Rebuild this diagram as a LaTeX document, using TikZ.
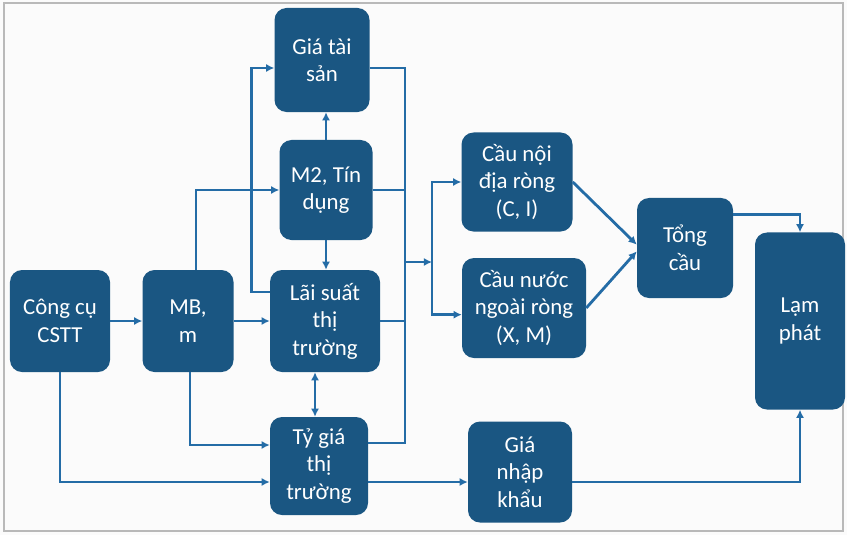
\documentclass[tikz,border=0pt]{standalone}
\usepackage{fontspec}
\setmainfont{Carlito}
\usetikzlibrary{arrows.meta}
\definecolor{boxblue}{RGB}{26,86,130}
\definecolor{lineblue}{RGB}{36,108,166}
\begin{document}
\begin{tikzpicture}[x=0.03cm,y=-0.03cm]
        \tikzstyle{every node}=[fill=boxblue,rounded corners=0.36cm,text=white,align=center,font=\fontsize{19.5}{23.5}\selectfont,inner sep=2pt]
        \tikzstyle{line}=[draw=lineblue,line width=2.4pt]
        \tikzstyle{arr}=[line,-{Latex[length=7pt,width=7pt]}]
        \fill[white!97!gray] (0,0) rectangle (847,535);
        \useasboundingbox (0,0) rectangle (847,535);
        \draw[gray!55,line width=1pt] (4,3) rectangle (843,531);
        \node[minimum width=3cm,minimum height=3.06cm] (cstt) at (60,321) {Công cụ\\CSTT};
        \node[minimum width=2.73cm,minimum height=3.06cm] (mb) at (188,321) {MB,\\m};
        \node[minimum width=2.85cm,minimum height=3.12cm] (gts) at (322,60) {Giá tài\\sản};
        \node[minimum width=2.79cm,minimum height=3cm] (m2) at (326,190) {M2, Tín\\dụng};
        \node[minimum width=3.3cm,minimum height=3.06cm] (ls) at (325,321) {Lãi suất\\thị\\trường};
        \node[minimum width=2.94cm,minimum height=2.94cm] (tg) at (319,466) {Tỷ giá\\thị\\trường};
        \node[minimum width=3.33cm,minimum height=2.97cm] (cnd) at (517,182) {Cầu nội\\địa ròng\\(C, I)};
        \node[minimum width=3.72cm,minimum height=3cm] (cnn) at (524,308) {Cầu nước\\ngoài ròng\\(X, M)};
        \node[minimum width=2.88cm,minimum height=3cm] (tc) at (685,248) {Tổng\\cầu};
        \node[minimum width=2.7cm,minimum height=5.31cm] (lp) at (800,321) {Lạm\\phát};
        \node[minimum width=3.12cm,minimum height=3.03cm] (gnk) at (520,472) {Giá\\nhập\\khẩu};
        \coordinate (bus) at (405,262);
        \coordinate (split) at (432,262);
        \draw[arr] (cstt) -- (mb);
        \draw[arr] (cstt.south) |- ([yshift=-0.48cm]tg.west);
        \draw[arr] ([xshift=0.24cm]mb.north) |- (m2.west);
        \draw[arr] (mb) -- (ls);
        \draw[arr] ([xshift=0.06cm]mb.south) |- ([yshift=0.63cm]tg.west);
        \draw[arr] ([yshift=0.87cm]ls.west) -- ++(-0.54cm,0) |- ([yshift=-0.24cm]gts.west);
        \draw[arr] (m2.north) -- (m2.north |- gts.south);
        \draw[arr] (m2.south) -- (m2.south |- ls.north);
        \draw[line,{Latex[length=7pt,width=7pt]}-{Latex[length=7pt,width=7pt]}] ([xshift=-0.3cm]ls.south) -- ([xshift=-0.3cm]ls.south |- tg.north);
        \draw[line] ([yshift=-0.24cm]gts.east) -| (bus) |- ([yshift=0.69cm]tg.east);
        \draw[line] (m2.east) -- (m2.east -| bus);
        \draw[line] (ls.east) -- (ls.east -| bus);
        \draw[arr] (bus) -- (split);
        \draw[arr] (split) |- (cnd.west);
        \draw[arr] (split) |- ([yshift=-0.2cm]cnn.west);
        \draw[arr] (cnd.east) -- ([yshift=0.1cm]tc.west);
        \draw[arr] (cnn.east) -- ([yshift=-0.1cm]tc.west);
        \draw[arr] ([yshift=1cm]tc.east) -| (lp.north);
        \draw[arr] ([yshift=-0.48cm]tg.east) -- ([yshift=-0.48cm]tg.east -| gnk.west);
        \draw[arr] ([yshift=-0.3cm]gnk.east) -| (lp.south);
    \end{tikzpicture}
\end{document}
